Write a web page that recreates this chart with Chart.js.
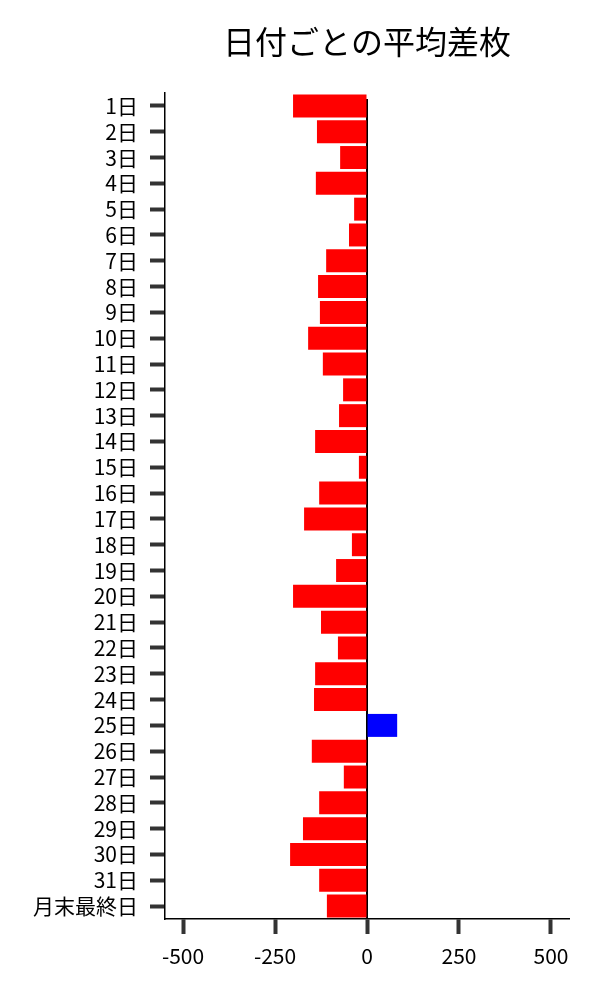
<!DOCTYPE html>
<html>
<head>
    <meta charset="utf-8">
    <style>
        body { margin: 0; background: #fff; }
        .wrap { width: 600px; height: 1000px; }
    </style>
    <script src="https://cdn.jsdelivr.net/npm/chart.js"></script>
</head>
<body>
    <div class="wrap">
        <canvas id="myChart" width="600" height="1000"></canvas>
    </div>
    <script>
        const chartTitle = '日付ごとの平均差枚';
        const dayLabels = ['1日', '2日', '3日', '4日', '5日', '6日', '7日', '8日', '9日', '10日',
            '11日', '12日', '13日', '14日', '15日', '16日', '17日', '18日', '19日', '20日',
            '21日', '22日', '23日', '24日', '25日', '26日', '27日', '28日', '29日', '30日',
            '31日', '月末最終日'];
        const avgDiff = [-201, -136, -73, -139, -35, -49, -111, -133, -128, -160,
            -120, -65, -76, -141, -22, -130, -171, -41, -84, -201,
            -125, -79, -141, -144, 82, -150, -63, -130, -174, -209,
            -130, -109];
        const xTickValues = [-500, -250, 0, 250, 500];

        const fontFamily = "'Noto Sans CJK JP', 'Noto Sans', sans-serif";

        // black line at zero, behind the bars
        const zeroLine = {
            id: 'zeroLine',
            beforeDatasetsDraw(chart) {
                const { ctx, chartArea, scales } = chart;
                const x = scales.x.getPixelForValue(0);
                ctx.save();
                ctx.strokeStyle = '#000';
                ctx.lineWidth = 2;
                ctx.beginPath();
                ctx.moveTo(x, chartArea.top + 6);
                ctx.lineTo(x, chartArea.bottom);
                ctx.stroke();
                ctx.restore();
            }
        };

        // title centred over the plot area
        const plotTitle = {
            id: 'plotTitle',
            afterDraw(chart) {
                const { ctx, chartArea } = chart;
                ctx.save();
                ctx.fillStyle = '#000';
                ctx.font = '32px ' + fontFamily;
                ctx.textAlign = 'center';
                ctx.textBaseline = 'middle';
                ctx.fillText(chartTitle, (chartArea.left + chartArea.right) / 2, 42);
                ctx.restore();
            }
        };

        new Chart(document.getElementById('myChart'), {
            type: 'bar',
            data: {
                labels: dayLabels,
                datasets: [{
                    data: avgDiff,
                    backgroundColor: avgDiff.map(v => v < 0 ? '#ff0000' : '#0000ff'),
                    borderWidth: 0,
                    barPercentage: 0.89,
                    categoryPercentage: 1.0
                }]
            },
            options: {
                indexAxis: 'y',
                responsive: false,
                animation: false,
                layout: { padding: { top: 93, right: 31, left: 0, bottom: 0 } },
                plugins: {
                    legend: { display: false },
                    tooltip: { enabled: false }
                },
                scales: {
                    x: {
                        min: -549,
                        max: 549,
                        afterBuildTicks(scale) {
                            scale.ticks = xTickValues.map(v => ({ value: v }));
                        },
                        afterFit(scale) { scale.height = 81; },
                        grid: {
                            drawOnChartArea: false,
                            tickLength: 15,
                            tickWidth: 4,
                            tickColor: '#333'
                        },
                        border: { color: '#000', width: 1.5 },
                        ticks: {
                            color: '#000',
                            padding: 9,
                            font: { family: fontFamily, size: 21 }
                        }
                    },
                    y: {
                        afterFit(scale) { scale.width = 165; },
                        grid: {
                            offset: false,
                            drawOnChartArea: false,
                            tickLength: 15,
                            tickWidth: 4,
                            tickColor: '#333'
                        },
                        border: { color: '#000', width: 1.5 },
                        ticks: {
                            color: '#000',
                            padding: 12,
                            autoSkip: false,
                            font: { family: fontFamily, size: 21 }
                        }
                    }
                }
            },
            plugins: [zeroLine, plotTitle]
        });
    </script>
</body>
</html>
